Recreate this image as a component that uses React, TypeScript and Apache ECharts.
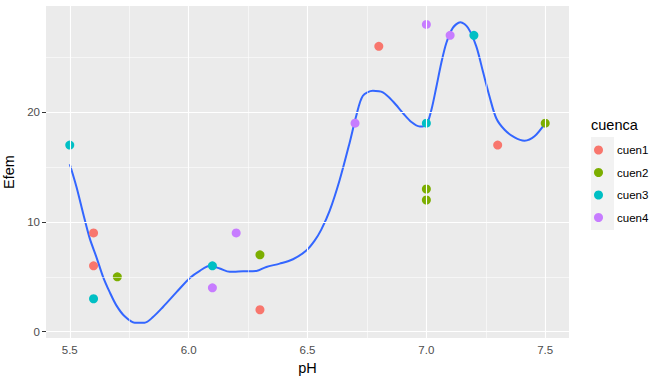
import React, { useEffect, useRef } from "react";
import * as echarts from "echarts";

const groups = ["cuen1", "cuen2", "cuen3", "cuen4"];
const groupColors = ["#F8766D", "#7CAE00", "#00BFC4", "#C77CFF"];

const cuen1 = [[5.6, 9], [5.6, 6], [6.3, 2], [6.8, 26], [7.3, 17]];
const cuen2 = [[5.7, 5], [6.3, 7], [7.0, 13], [7.0, 12], [7.5, 19]];
const cuen3 = [[5.5, 17], [5.6, 3], [6.1, 6], [7.0, 19], [7.2, 27]];
const cuen4 = [[6.1, 4], [6.2, 9], [6.7, 19], [7.0, 28], [7.1, 27]];
const groupData = [cuen1, cuen2, cuen3, cuen4];

// loess smoother
const smoothPH = [
  5.5, 5.528, 5.556, 5.584, 5.612, 5.64, 5.668, 5.696, 5.731, 5.773, 5.815, 5.85, 5.892, 5.949,
  6.005, 6.047, 6.089, 6.131, 6.173, 6.229, 6.285, 6.327, 6.383, 6.439, 6.495, 6.53, 6.558,
  6.593, 6.635, 6.677, 6.706, 6.733, 6.775, 6.817, 6.86, 6.902, 6.937, 6.972, 7.0, 7.021, 7.042,
  7.063, 7.084, 7.112, 7.143, 7.175, 7.21, 7.238, 7.266, 7.294, 7.329, 7.371, 7.413, 7.455, 7.5,
];
const smoothEfem = [
  15.25, 13.2, 10.8, 8.5, 6.8, 5.0, 3.6, 2.4, 1.4, 0.82, 0.82, 1.33, 2.25, 3.6,
  4.9, 5.55, 6.0, 5.75, 5.45, 5.5, 5.54, 5.9, 6.2, 6.6, 7.4, 8.3, 9.3,
  11.0, 13.8, 17.2, 19.75, 21.5, 21.95, 21.8, 20.97, 19.9, 19.1, 18.7, 18.85, 20.2, 22.3,
  24.5, 26.3, 27.7, 28.2, 27.7, 26.0, 23.7, 21.4, 19.45, 18.4, 17.7, 17.4, 17.8, 19.0,
];

const xTicks = [5.5, 6.0, 6.5, 7.0, 7.5];
const xMinor = [5.75, 6.25, 6.75, 7.25];
const yTicks = [0, 10, 20];
const yMinor = [5, 15, 25];

const FONT = "'Liberation Sans', Arial, sans-serif";

export default function App() {
  const ref = useRef<HTMLDivElement>(null);
  useEffect(() => {
    if (!ref.current) return;
    const chart = echarts.init(ref.current, null, { renderer: "svg" });
    const major = { color: "#FFFFFF", width: 1.1, type: "solid" };
    const minor = { color: "#FFFFFF", width: 0.55, type: "solid" };
    const gridLines = [
      ...xMinor.map((v) => ({ xAxis: v, lineStyle: minor })),
      ...yMinor.map((v) => ({ yAxis: v, lineStyle: minor })),
      ...xTicks.map((v) => ({ xAxis: v, lineStyle: major })),
      ...yTicks.map((v) => ({ yAxis: v, lineStyle: major })),
    ];
    const option: any = {
      animation: false,
      grid: {
        left: 46,
        right: 101,
        top: 6,
        bottom: 45,
        containLabel: false,
        outerBoundsMode: "none",
        show: true,
        backgroundColor: "#EBEBEB",
        borderWidth: 0,
      },
      xAxis: {
        type: "value",
        min: 5.4,
        max: 7.6,
        name: "pH",
        nameLocation: "middle",
        nameGap: 22,
        nameTextStyle: { color: "#000000", fontSize: 14.5, fontFamily: FONT },
        axisLine: { show: false },
        axisTick: { show: true, customValues: xTicks, length: 4, lineStyle: { color: "#333333", width: 1 } },
        axisLabel: {
          customValues: xTicks,
          formatter: (v: number) => v.toFixed(1),
          color: "#4D4D4D",
          fontSize: 11.5,
          fontFamily: FONT,
          margin: 6,
        },
        splitLine: { show: false },
      },
      yAxis: {
        type: "value",
        min: -0.575,
        max: 29.675,
        name: "Efem",
        nameLocation: "middle",
        nameGap: 20,
        nameTextStyle: { color: "#000000", fontSize: 14.5, fontFamily: FONT },
        axisLine: { show: false },
        axisTick: { show: true, customValues: yTicks, length: 4, lineStyle: { color: "#333333", width: 1 } },
        axisLabel: {
          customValues: yTicks,
          formatter: (v: number) => String(v),
          color: "#4D4D4D",
          fontSize: 11.5,
          fontFamily: FONT,
          margin: 6,
        },
        splitLine: { show: false },
      },
      legend: {
        data: groups,
        orient: "vertical",
        left: 589,
        top: 139,
        itemWidth: 27,
        itemHeight: 9,
        itemGap: 10.5,
        icon: "circle",
        textStyle: { color: "#000000", fontSize: 11.5, fontFamily: FONT },
        selectedMode: false,
      },
      graphic: [
        {
          type: "rect",
          left: 591,
          top: 137,
          shape: { width: 23, height: 93 },
          style: { fill: "#F2F2F2" },
          z: -1,
        },
        {
          type: "text",
          left: 591,
          top: 117,
          style: { text: "cuenca", fill: "#000000", fontSize: 14.5, fontFamily: FONT },
        },
      ],
      series: [
        {
          name: "grid",
          type: "line",
          data: [],
          silent: true,
          z: 1,
          markLine: {
            silent: true,
            symbol: "none",
            label: { show: false },
            animation: false,
            data: gridLines,
          },
        },
        {
          name: "loess",
          type: "line",
          data: smoothPH.map((x, i) => [x, smoothEfem[i]]),
          showSymbol: false,
          smooth: 0.3,
          lineStyle: { color: "#3366FF", width: 2 },
          z: 2,
          silent: true,
        },
        ...groups.map((g, i) => ({
          name: g,
          type: "scatter",
          data: groupData[i],
          symbol: "circle",
          symbolSize: 9,
          itemStyle: { color: groupColors[i], opacity: 1 },
          z: 3,
        })),
      ],
    };
    chart.setOption(option);
    return () => chart.dispose();
  }, []);
  return (
    <div
      ref={ref}
      style={{ position: "absolute", left: 0, top: 0, width: 670, height: 383, background: "#FFFFFF" }}
    />
  );
}
